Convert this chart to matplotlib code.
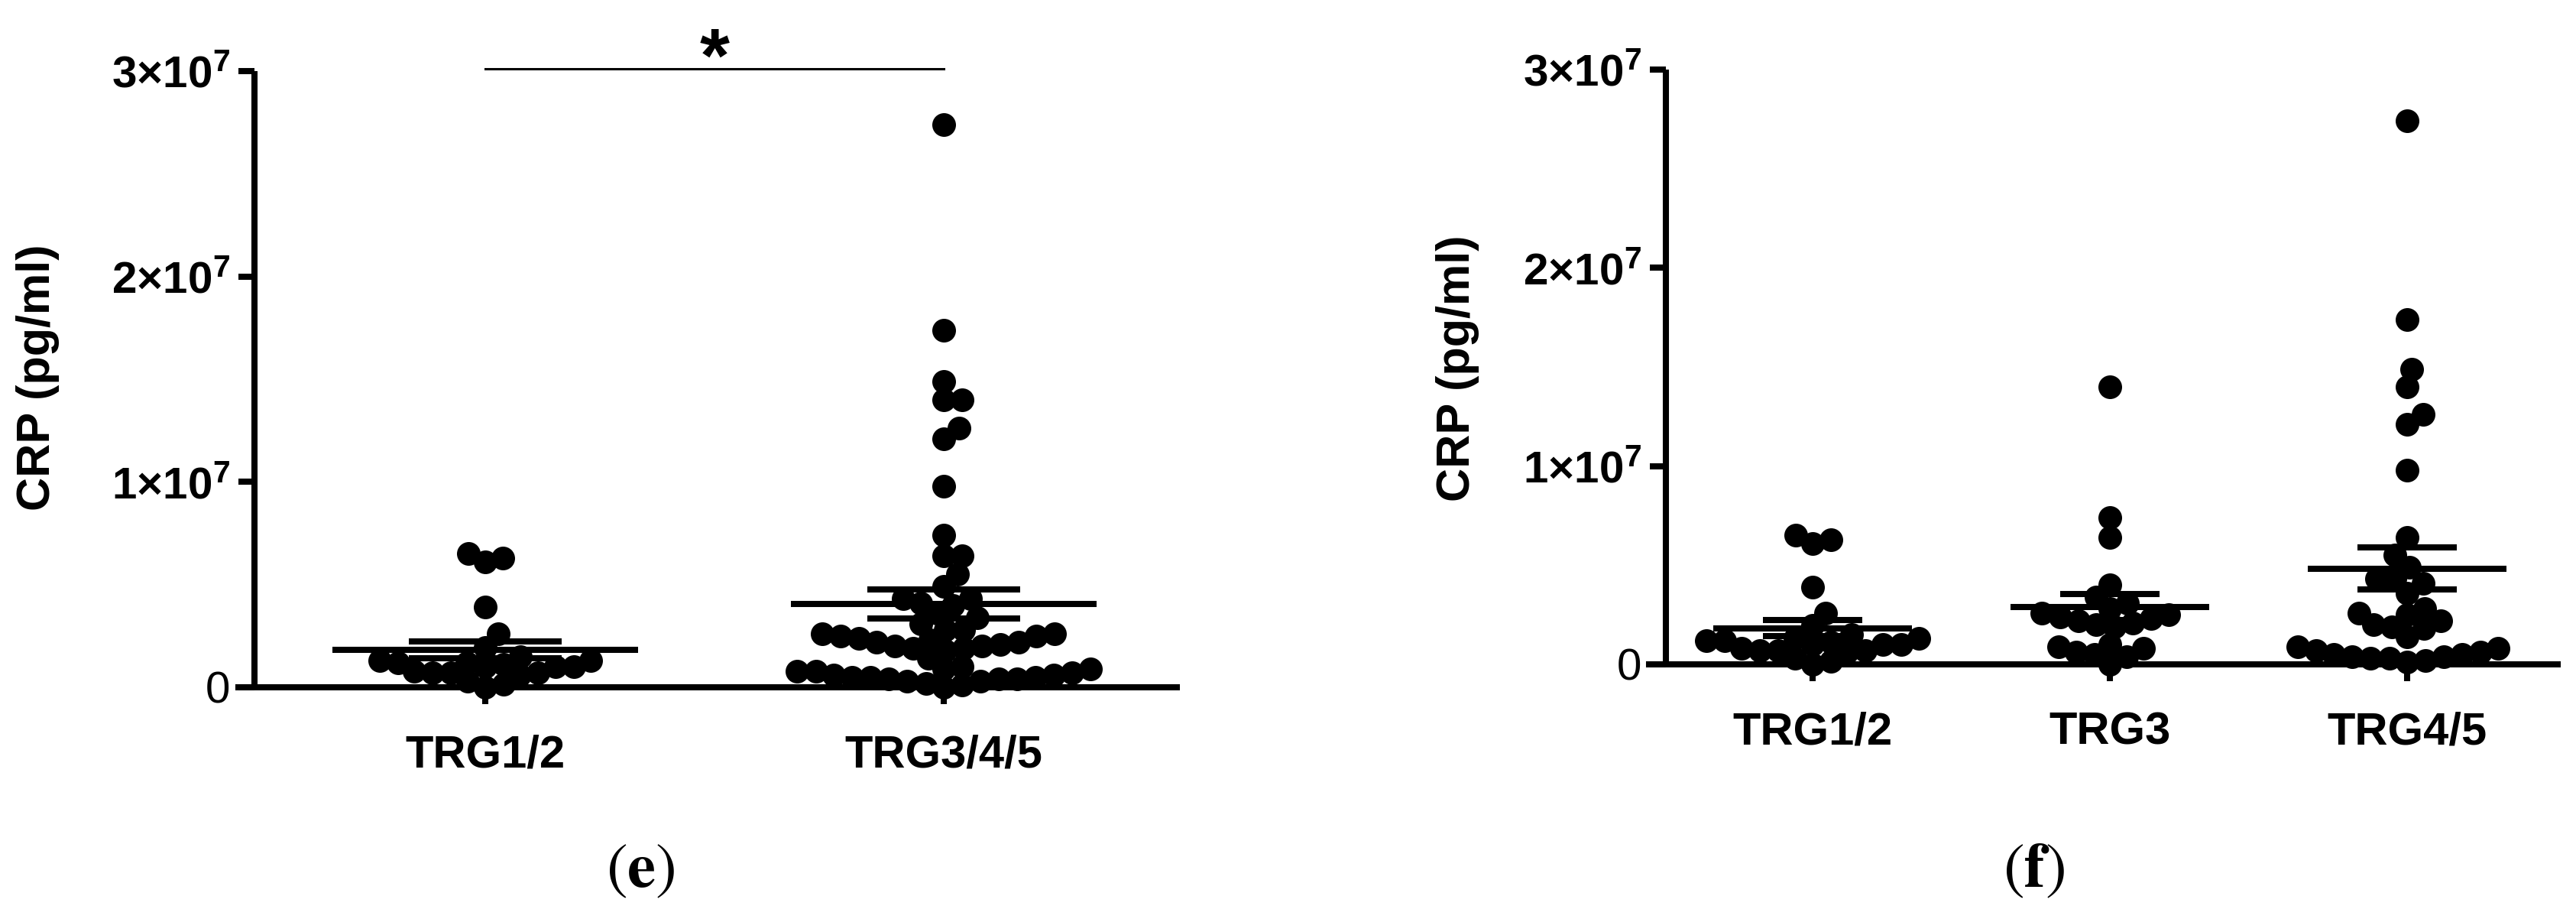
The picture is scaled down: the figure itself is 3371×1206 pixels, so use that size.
import numpy as np
import matplotlib
matplotlib.use("Agg")
import matplotlib.pyplot as plt

plt.rcParams["font.family"] = ["Liberation Sans", "DejaVu Sans"]
plt.rcParams["mathtext.fontset"] = "custom"
plt.rcParams["mathtext.rm"] = "Liberation Sans:bold"
plt.rcParams["mathtext.bf"] = "Liberation Sans:bold"
plt.rcParams["mathtext.it"] = "Liberation Sans:bold"

# ---------------- data (CRP, units of 1e6 pg/ml) ----------------
trg12 = [6.5, 6.1, 6.3, 3.9, 2.6, 1.95, 1.5, 1.3, 1.3, 1.2, 1.2, 1.1, 1.0, 1.0,
         1.0, 0.8, 0.7, 0.7, 0.7, 0.6, 0.3, 0.15, 0.0]
trg3 = [14.0, 7.4, 6.4, 4.0, 3.4, 3.1, 2.8, 2.6, 2.5, 2.4, 2.3, 2.2, 2.1, 2.0,
        1.9, 1.0, 0.9, 0.8, 0.6, 0.5, 0.4, 0.0]
trg45 = [27.4, 17.4, 14.9, 14.0, 12.6, 12.1, 9.8, 6.4, 5.5, 4.9, 4.3, 4.3, 4.1,
         3.6, 2.8, 2.6, 2.5, 2.2, 2.0, 1.9, 1.8, 1.4, 0.9, 0.8, 0.7, 0.6, 0.5,
         0.5, 0.4, 0.4, 0.3, 0.3, 0.2, 0.1]
scale = 1e6

left_cats = ["TRG1/2", "TRG3/4/5"]
left_data = [trg12, trg3 + trg45]
right_cats = ["TRG1/2", "TRG3", "TRG4/5"]
right_data = [trg12, trg3, trg45]

ytick_vals = [0, 1e7, 2e7, 3e7]
ytick_labels = ["0", r"$1{\times}10^{7}$", r"$2{\times}10^{7}$", r"$3{\times}10^{7}$"]
ylabel = "CRP (pg/ml)"
sig_text = "*"
panel_labels = ["e", "f"]

W, H = 3371, 1206
DPI = 100
fig = plt.figure(figsize=(W / DPI, H / DPI), dpi=DPI)

LW = 5.8
MS_PX = 31.0


def swarm_offsets(ax, vals, d_px):
    pts = ax.transData.transform(np.column_stack([np.zeros(len(vals)), vals]))
    ys = pts[:, 1]
    order = np.argsort(ys)
    xs = np.zeros(len(vals))
    placed = []
    for i in order:
        y = ys[i]
        cands = [0.0]
        for (px, py) in placed:
            dy = y - py
            if abs(dy) < d_px:
                dx = np.sqrt(d_px ** 2 - dy ** 2)
                cands += [px + dx, px - dx]
        cands.sort(key=abs)
        for c in cands:
            ok = True
            for (px, py) in placed:
                if (c - px) ** 2 + (y - py) ** 2 < d_px ** 2 - 1e-6:
                    ok = False
                    break
            if ok:
                xs[i] = c
                break
        placed.append((xs[i], y))
    x0 = ax.transData.transform((0, 0))[0]
    x1 = ax.transData.transform((1, 0))[0]
    return xs / (x1 - x0)


def make_panel(rect_px, xlim, spine_x, cats, data):
    x0, y_top, x1, y_zero = rect_px
    ax = fig.add_axes([x0 / W, 1 - y_zero / H, (x1 - x0) / W, (y_zero - y_top) / H])
    ax.set_xlim(*xlim)
    ax.set_ylim(0, 3e7)
    for s in ["top", "right"]:
        ax.spines[s].set_visible(False)
    ax.spines["left"].set_position(("data", spine_x))
    ax.spines["left"].set_bounds(0, 3e7)
    ax.spines["left"].set_linewidth(LW)
    ax.spines["bottom"].set_linewidth(LW)
    ax.spines["left"].set_capstyle("butt")
    ax.set_yticks(ytick_vals)
    ax.set_yticklabels(ytick_labels)
    ax.set_xticks(range(len(cats)))
    ax.set_xticklabels(cats, fontweight="bold")
    ax.tick_params(axis="y", direction="out", length=15, width=LW, labelsize=42, pad=8)
    ax.tick_params(axis="x", direction="out", length=16, width=LW, labelsize=43, pad=28)
    for k, vals in enumerate(data):
        v = np.asarray(vals) * scale
        off = swarm_offsets(ax, v, MS_PX * 0.78)
        ax.scatter(k + off, v, s=(MS_PX * 72 / DPI) ** 2, color="black", zorder=3,
                   clip_on=False, linewidths=0)
        m = v.mean()
        sem = v.std(ddof=1) / np.sqrt(len(v))
        ax.plot([k - 1 / 3, k + 1 / 3], [m, m], color="black", lw=LW, zorder=4,
                solid_capstyle="butt")
        for yy in (m - sem, m + sem):
            ax.plot([k - 1 / 6, k + 1 / 6], [yy, yy], color="black", lw=LW, zorder=4,
                    solid_capstyle="butt")
    return ax


axL = make_panel((312, 93, 1540, 899), (-0.538, 1.508), -0.503, left_cats, left_data)
axR = make_panel((2158, 91, 3347, 869), (-0.550, 2.506), -0.494, right_cats, right_data)

# significance bar
axL.plot([0, 1], [3.01e7, 3.01e7], color="black", lw=2.2, clip_on=False)
axL.text(0.5, 2.95e7, sig_text, ha="center", va="baseline", fontsize=72,
         fontweight="bold", clip_on=False)

# y labels
fig.text(50 / W, 1 - 494 / H, ylabel, rotation=90, ha="center", va="center",
         fontsize=44, fontweight="bold")
fig.text(1908 / W, 1 - 482 / H, ylabel, rotation=90, ha="center", va="center",
         fontsize=44, fontweight="bold")

# panel labels
for xc, lab in zip([838, 2662], panel_labels):
    t = fig.text(xc / W, 1 - 1138 / H, r"$(\mathbf{%s})$" % lab, ha="center",
                 va="center", fontsize=60)
    t.set_math_fontfamily("stix")

fig.savefig("out.png", dpi=DPI)
